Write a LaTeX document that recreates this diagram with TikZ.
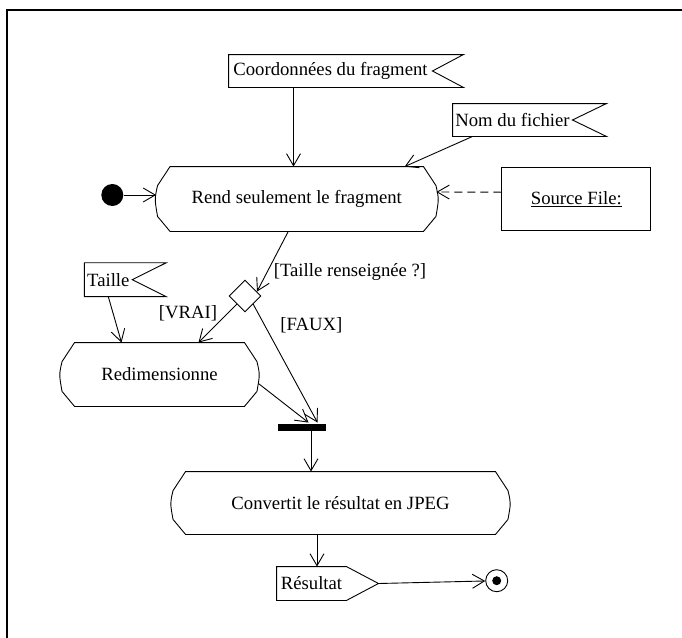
\documentclass[tikz,border=0pt]{standalone}
\usepackage{fontspec}
\setmainfont{Liberation Serif}
\usetikzlibrary{arrows.meta,calc,shapes.geometric}
\tikzset{
  arr/.style={-{Straight Barb[length=12pt,width=14pt]}},
  txt/.style={inner sep=0pt,draw=none},
  box/.style={inner sep=0pt,draw=none}
}
\newcommand\actoutline[1]{%
  \draw ($(#1.north west)+(14,0)$) -- ($(#1.north east)+(-14,0)$) -- ($(#1.north east)+(-1.5,19)$)
    .. controls ($(#1.east)+(1.5,0)$) .. ($(#1.south east)+(-1.5,-15)$) -- ($(#1.south east)+(-14,0)$)
    -- ($(#1.south west)+(14,0)$) -- ($(#1.south west)+(1.5,-15)$)
    .. controls ($(#1.west)+(-1.5,0)$) .. ($(#1.north west)+(1.5,19)$) -- cycle;}
\newcommand\flagin[2]{%
  \draw (#2.north west) -- ($(#2.north east)+(#1,0)$) -- (#2.east) -- ($(#2.south east)+(#1,0)$) -- (#2.south west) -- cycle;}
\newcommand\flagout[2]{%
  \draw (#2.north west) -- (#2.north east) -- ($(#2.east)+(#1,0)$) -- (#2.south east) -- (#2.south west) -- cycle;}
\begin{document}
\begin{tikzpicture}[x=1pt,y=-1pt,line width=0.9pt,font=\fontsize{18.7}{22}\selectfont]
\useasboundingbox (0,0) rectangle (682,637);
% frame
\draw[line width=2.2pt] (7,640) -- (7,10) -- (685,10);

% object flows / flags
\node[box,minimum width=203,minimum height=32] (coord) at (330.5,71) {Coordonnées du fragment};
\flagin{31}{coord}
\node[box,minimum width=119,minimum height=32] (nom) at (512.5,120) {Nom du fichier};
\flagin{34}{nom}
\node[box,minimum width=47,minimum height=33] (taille) at (108.3,279.7) {Taille};
\flagin{34}{taille}
\node[box,minimum width=69,minimum height=33] (res) at (311.5,583.5) {Résultat};
\flagout{32}{res}
\coordinate (resTip) at ($(res.east)+(32,0)$);

% activities
\node[box,minimum width=280.5,minimum height=64] (rend) at (296.75,199) {Rend seulement le fragment};
\actoutline{rend}
\node[box,minimum width=197,minimum height=63] (redim) at (159.5,374.5) {Redimensionne};
\actoutline{redim}
\node[box,minimum width=337,minimum height=62] (conv) at (340.5,503) {Convertit le résultat en JPEG};
\actoutline{conv}

% other nodes
\node[circle,fill,minimum size=22,inner sep=0pt] (start) at (112.3,195) {};
\node[draw,minimum width=149,minimum height=63,inner sep=0pt] (src) at (576.3,199.2) {\underline{Source File:}};
\node[diamond,draw,minimum size=32,inner sep=0pt] (dec) at (245,296) {};
\node[fill,minimum width=48,minimum height=7,inner sep=0pt] (bar) at (301.5,427.5) {};
\node[circle,draw,minimum size=22,inner sep=0pt] (final) at (496.7,580.7) {};
\node[circle,fill,minimum size=9,inner sep=0pt] (finaldot) at (final.center) {};

% labels
\node[txt] (lblq) at (350,271.7) {[Taille renseignée ?]};
\node[txt] (lblv) at (188,313.3) {[VRAI]};
\node[txt] (lblf) at (311.3,325) {[FAUX]};

% connectors
\coordinate (c1) at ($(coord.south)+(-37,0)$);
\draw[arr] (c1) -- (c1 |- rend.north);
\draw[arr] ($(nom.south)+(-40,0)$) -- ($(rend.north)+(108,0)$);
\draw[arr] (start) -- (start -| rend.west);
\draw[arr,dash pattern=on 8pt off 5pt] ($(src.west)+(0,-7)$) -- ($(rend.east)+(-1,-7)$);
\draw[arr] ($(rend.south)+(-8.5,0)$) -- ($(dec.north)!0.73!(dec.east)$);
\draw[arr] (dec.south west) -- ($(redim.north)+(39,0)$);
\draw[arr] (taille.south) -- ($(redim.north)+(-38,0)$);
\draw[arr] (dec.south east) -- ($(bar.north)+(16,-1)$);
\draw[arr] ($(redim.east)+(0,9)$) -- ($(bar.north)+(7,-1)$);
\coordinate (c2) at ($(bar.south)+(9.5,0)$);
\draw[arr] (c2) -- (c2 |- conv.north);
\coordinate (c3) at ($(conv.south)+(-23.5,0)$);
\draw[arr] (c3) -- (c3 |- res.north);
\draw[arr] (resTip) -- (final);
\end{tikzpicture}
\end{document}
